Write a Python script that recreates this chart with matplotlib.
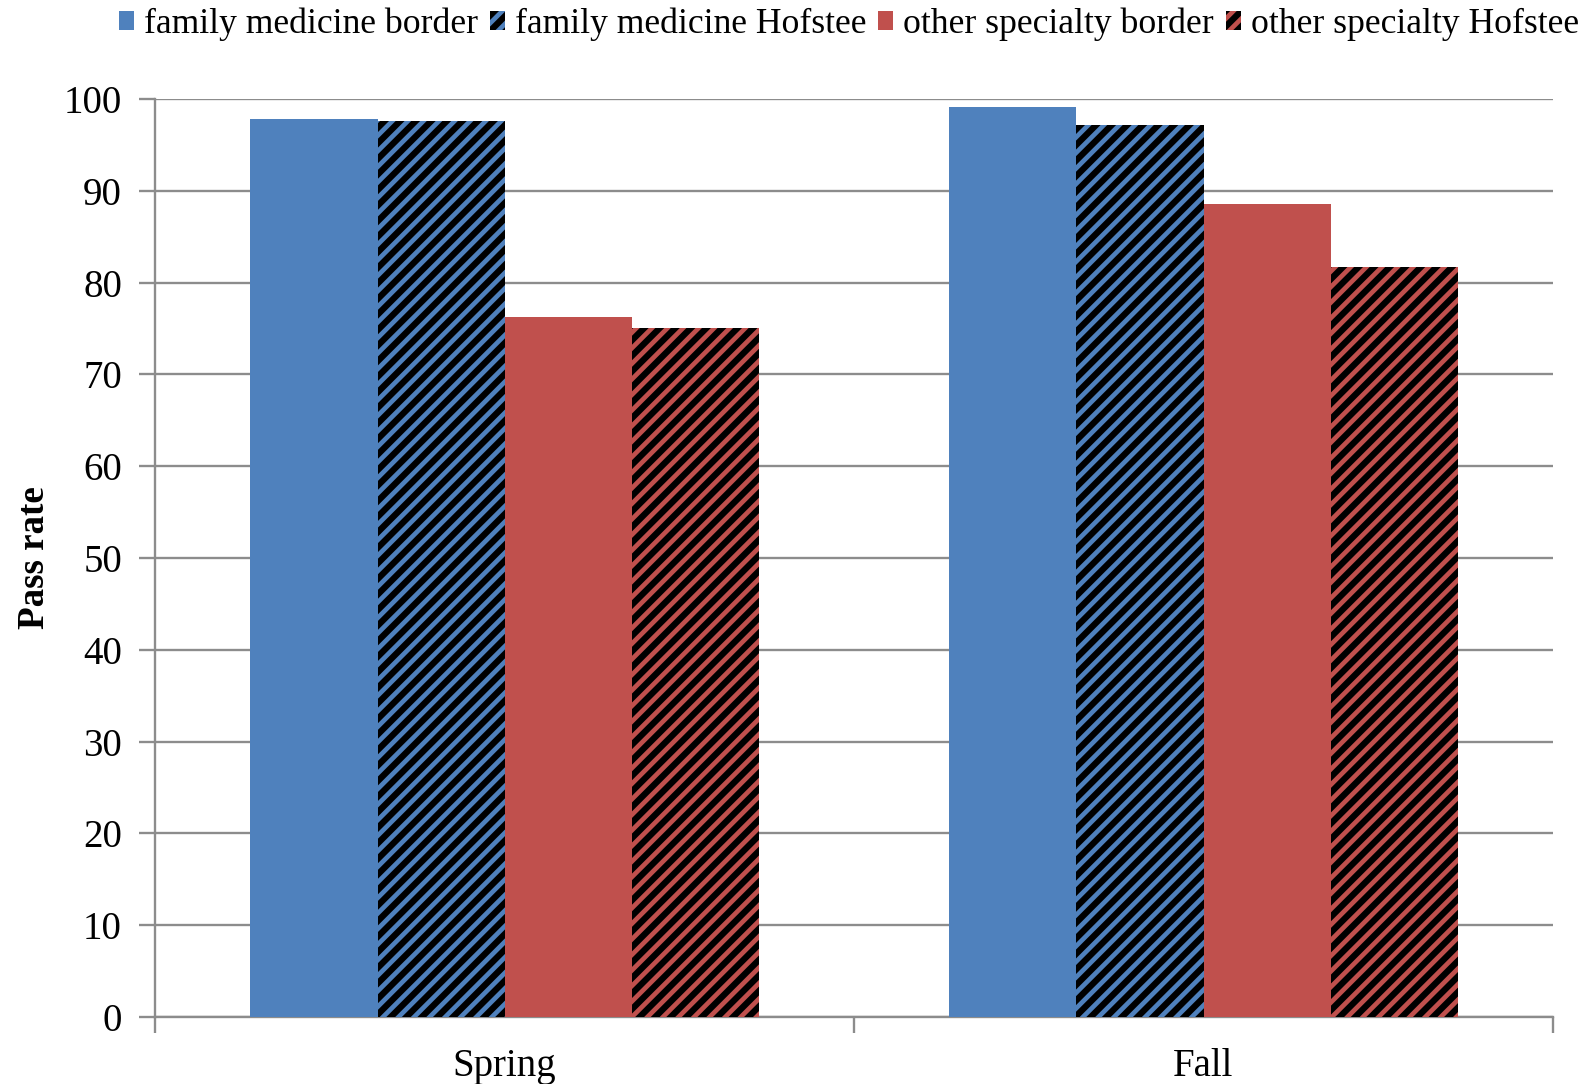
import matplotlib
matplotlib.use("Agg")
import matplotlib.pyplot as plt
import numpy as np
from matplotlib.patches import Patch

# Pass rates by exam session and standard-setting method
seasons = ["Spring", "Fall"]
series_names = ["family medicine border", "family medicine Hofstee",
                "other specialty border", "other specialty Hofstee"]
fm_border = [97.8, 99.1]
fm_hofstee = [97.6, 97.2]
os_border = [76.3, 88.6]
os_hofstee = [75.1, 81.7]
y_ticks = list(range(0, 101, 10))

blue = "#4F81BD"
red = "#C0504D"

plt.rcParams["font.family"] = ["Liberation Serif", "DejaVu Serif"]
plt.rcParams["hatch.linewidth"] = 2.4

fig = plt.figure(figsize=(1587 / 140, 1084 / 140), dpi=140)
ax = fig.add_axes([0.0977, 0.0618, 0.8809, 0.8469])

x = np.arange(len(seasons))
w = 0.727 / 4
offsets = np.array([-1.5, -0.5, 0.5, 1.5]) * w

values = [fm_border, fm_hofstee, os_border, os_hofstee]
styles = [
    dict(facecolor=blue, edgecolor=blue, hatch=None),
    dict(facecolor="black", edgecolor=blue, hatch="///"),
    dict(facecolor=red, edgecolor=red, hatch=None),
    dict(facecolor="black", edgecolor=red, hatch="///"),
]
for vals, off, st in zip(values, offsets, styles):
    ax.bar(x + off, vals, width=w, linewidth=0, zorder=3, **st)

ax.set_xlim(-0.5, 1.5)
ax.set_ylim(0, 100)
ax.set_yticks(y_ticks)
ax.set_xticks([-0.5, 0.5, 1.5], minor=False)
ax.set_xticklabels(["", "", ""])
ax.set_xticks(x, minor=True)
ax.set_xticklabels(seasons, minor=True)
ax.tick_params(axis="x", which="minor", length=0, labelsize=20, pad=16)
ax.tick_params(axis="x", which="major", length=8, width=1.2, color="#8C8C8C",
               direction="out")
ax.tick_params(axis="y", length=8, width=1.2, color="#8C8C8C",
               direction="out", labelsize=20, pad=9)

ax.grid(axis="y", color="#8C8C8C", linewidth=1.2, zorder=0)
ax.set_axisbelow(True)
for s in ["top", "right"]:
    ax.spines[s].set_visible(False)
for s in ["left", "bottom"]:
    ax.spines[s].set_color("#8C8C8C")
    ax.spines[s].set_linewidth(1.2)

ax.set_ylabel("Pass rate", fontsize=19, fontweight="bold", labelpad=6)

handles = [Patch(**st, linewidth=0) for st in styles]
fig.legend(handles, series_names, loc="upper center",
           bbox_to_anchor=(0.535, 1.016), ncol=4, frameon=False,
           fontsize=18.3, handlelength=0.42, handleheight=0.42,
           handletextpad=0.28, columnspacing=0.34, borderaxespad=0.3)

fig.savefig("out.png", dpi=140)
